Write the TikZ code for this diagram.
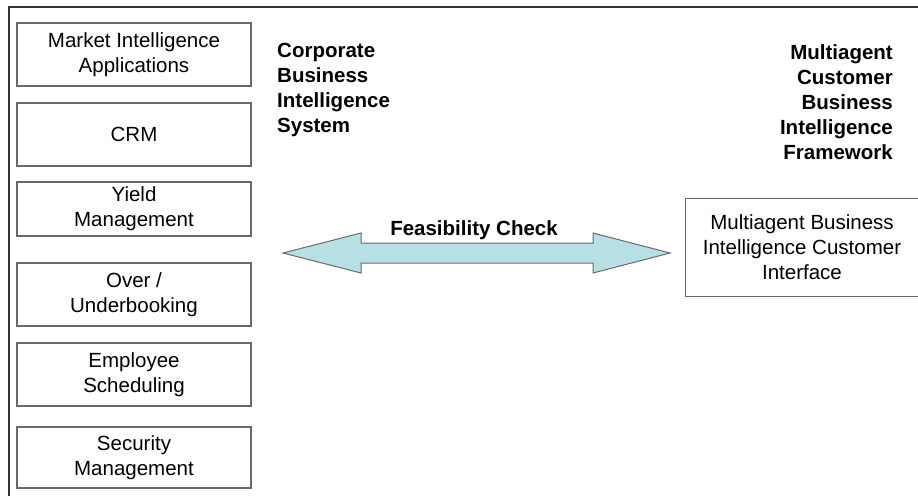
\documentclass[tikz,border=0pt]{standalone}
\usepackage{fontspec}
\setmainfont{Liberation Sans}

\definecolor{arrowfill}{RGB}{184,224,228}
\definecolor{boxline}{RGB}{105,105,105}

\tikzset{
  appbox/.style={draw=boxline, line width=1.2pt, minimum width=234, minimum height=63, align=center, inner sep=0},
  heading/.style={font=\fontsize{20.5}{25}\selectfont\bfseries, inner sep=0}
}

\begin{document}
\begin{tikzpicture}[x=1pt, y=-1pt, font=\fontsize{20.5}{25}\selectfont]
	\useasboundingbox (0,0) rectangle (918,496);
	\draw[line width=1.5pt, black!80] (9,496) -- (9,7) -- (918,7);

	% corporate systems column
	\node[appbox] (market) at (134,54.5) {Market Intelligence\\Applications};
	\node[appbox] (crm) at (134,134.5) {CRM};
	\node[appbox, minimum height=54] (yield) at (134,209) {Yield\\Management};
	\node[appbox] (booking) at (134,294.5) {Over /\\Underbooking};
	\node[appbox] (staff) at (134,374.5) {Employee\\Scheduling};
	\node[appbox, minimum height=61] (security) at (134,457.5) {Security\\Management};

	% titles, placed by the baseline of their last line
	\node[heading, anchor=base west, align=left] (corp) at (277,132) {Corporate\\Business\\Intelligence\\System};
	\node[heading, anchor=base east, align=right] (frame) at (893,159) {Multiagent\\Customer\\Business\\Intelligence\\Framework};

	% double arrow
	\draw[boxline, line width=1pt, fill=arrowfill] (283,253) -- (361,233) -- (361,243) -- (593,243) -- (593,233)
		-- (670,253) -- (593,273) -- (593,263) -- (361,263) -- (361,273) -- cycle;
	\node[heading, anchor=base] (check) at (474,235) {Feasibility Check};

	\node[minimum width=232, minimum height=97, align=center, inner sep=0] (interface) at (802,247.5) {Multiagent Business\\Intelligence Customer\\Interface};
	\draw[boxline, line width=1.2pt] (interface.north east) -- (interface.north west) -- (interface.south west) -- (interface.south east);
\end{tikzpicture}
\end{document}
